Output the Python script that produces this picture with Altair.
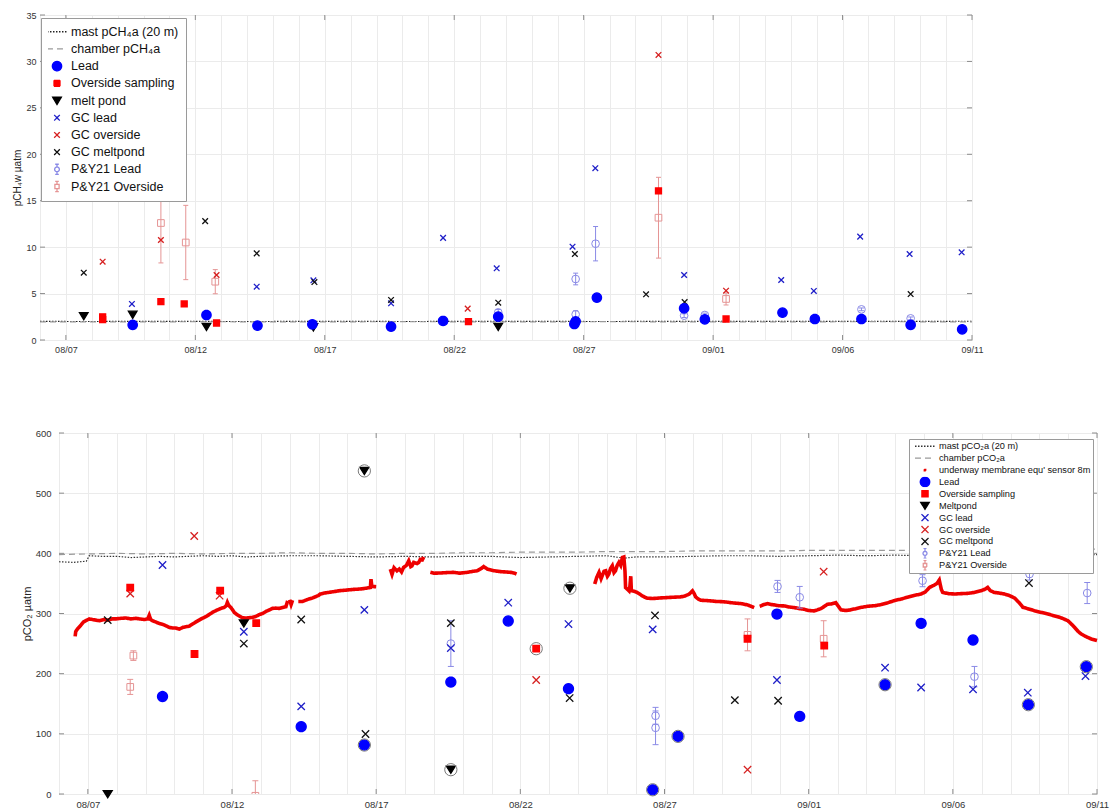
import math
import altair as alt
import pandas as pd

# ---------------------------------------------------------------- time helpers
BASE = pd.Timestamp("2020-07-31", tz="UTC")   # day numbers below are "day of August" (32 = 1 Sep)


def iso(days):
    return [(BASE + pd.Timedelta(days=float(d))).strftime("%Y-%m-%dT%H:%M:%SZ") for d in days]


def ms(day):
    return int((BASE + pd.Timedelta(days=float(day))).value // 10**6)


# ================================================================ CH4 panel data
ch4_labels = ["mast pCH₄a (20 m)", "chamber pCH₄a", "Lead", "Overside sampling", "melt pond",
              "GC lead", "GC overside", "GC meltpond", "P&Y21 Lead", "P&Y21 Overside"]

ch4_mast_day = [6, 8, 10, 12, 14, 16, 18, 20, 22, 24, 26, 28, 30, 32, 34, 36, 38, 40, 42]
ch4_mast_val = [2.00, 1.99, 2.01, 2.00, 1.99, 2.00, 2.01, 1.99, 2.00, 2.01, 2.00, 1.99, 2.01, 2.00, 2.00, 2.01, 2.00, 2.01, 2.02]
ch4_chamber_day = [6, 8, 10, 12, 14, 16, 18, 20, 22, 24, 26, 28, 30, 32, 34, 36, 38, 40, 42]
ch4_chamber_val = [1.95, 1.96, 1.95, 1.97, 1.96, 1.95, 1.96, 1.97, 1.96, 1.95, 1.96, 1.97, 1.96, 1.96, 1.95, 1.96, 1.97, 1.96, 1.96]

ch4_lead_day = [9.58, 12.43, 14.40, 16.52, 19.56, 21.57, 23.70, 26.64, 26.69, 27.51, 30.88, 31.68, 34.68, 35.93, 37.73, 39.63, 41.62]
ch4_lead_val = [1.62, 2.69, 1.54, 1.69, 1.44, 2.05, 2.51, 1.72, 2.00, 4.56, 3.41, 2.23, 2.94, 2.26, 2.26, 1.62, 1.15]
ch4_over_day = [8.42, 8.42, 10.67, 11.57, 12.82, 22.55, 29.89, 32.50]
ch4_over_val = [2.5, 2.2, 4.13, 3.88, 1.83, 1.97, 16.05, 2.26]
ch4_pond_day = [7.69, 9.58, 12.43, 16.56, 23.70]
ch4_pond_val = [2.6, 2.75, 1.44, 1.40, 1.44]
ch4_gclead_day = [9.55, 14.37, 16.56, 19.56, 21.57, 23.64, 26.57, 27.45, 30.88, 34.63, 35.89, 37.68, 39.59, 41.60]
ch4_gclead_val = [3.88, 5.74, 6.43, 3.95, 11.0, 7.72, 10.05, 18.5, 7.0, 6.46, 5.28, 11.13, 9.26, 9.44]
ch4_gcover_day = [8.42, 10.67, 12.82, 22.52, 29.89, 32.50]
ch4_gcover_val = [8.43, 10.77, 7.0, 3.38, 30.7, 5.31]
ch4_gcpond_day = [7.69, 12.38, 14.37, 16.60, 19.56, 23.70, 26.66, 29.41, 30.90, 39.63]
ch4_gcpond_val = [7.25, 12.8, 9.33, 6.24, 4.31, 4.02, 9.26, 4.92, 4.09, 4.95]
ch4_pylead_day = [23.70, 26.69, 26.69, 27.46, 30.88, 31.68, 37.73, 39.63]
ch4_pylead_val = [2.98, 6.57, 2.76, 10.37, 2.62, 2.69, 3.30, 2.33]
ch4_pylead_err = [0.30, 0.63, 0.40, 1.85, 0.20, 0.20, 0.15, 0.15]
ch4_pyover_day = [10.67, 11.63, 12.77, 29.89, 32.50]
ch4_pyover_val = [12.6, 10.5, 6.28, 13.17, 4.42]
ch4_pyover_err = [4.3, 4.0, 1.3, 4.35, 0.65]

# ================================================================ CO2 panel data
co2_labels = ["mast pCO₂a (20 m)", "chamber pCO₂a", "underway membrane equ' sensor 8m", "Lead",
              "Overside sampling", "Meltpond", "GC lead", "GC overside", "GC meltpond",
              "P&Y21 Lead", "P&Y21 Overside"]

co2_mast_day = [6.0, 6.5, 6.95, 7.05, 7.5, 8.0, 8.5, 9.0, 9.5, 10, 10.5, 11, 11.5, 12, 12.5, 13,
                14, 15, 16, 17, 18, 19, 20, 21, 22, 23, 24, 25, 25.6, 26, 27, 28, 29, 30, 31, 32,
                33, 34, 35, 36, 37, 38, 39, 40, 41, 42]
co2_mast_val = [386, 385, 387, 396, 395, 395, 393, 394, 395, 394, 395, 396, 395, 396, 394, 395,
                396, 396, 395, 394, 395, 394, 395, 395, 393, 394, 395, 396, 392, 394, 394, 395,
                396, 396, 395, 396, 397, 396, 397, 396, 397, 396, 397, 397, 397, 398]
co2_chamber_day = list(range(6, 43))
co2_chamber_val = [398, 399, 400, 399, 400, 399, 400, 400, 401, 400, 400, 399, 400, 400, 401, 401,
                   402, 402, 402, 403, 403, 403, 404, 404, 404, 404, 405, 405, 405, 405, 405, 406,
                   406, 406, 406, 407, 407]

# underway sensor, in separate recorded segments
uw1_day = [6.56, 6.58, 6.65, 6.75, 6.85, 6.93, 7.05, 7.16, 7.28, 7.39, 7.55, 7.68, 7.85, 7.97, 8.15,
           8.31, 8.5, 8.66, 8.8, 8.95, 9.08, 9.13, 9.18, 9.24, 9.35, 9.47, 9.6, 9.7, 9.82, 9.94,
           10.05, 10.17, 10.3, 10.4, 10.52, 10.63, 10.75, 10.86, 10.97, 11.09, 11.2, 11.32, 11.45,
           11.56, 11.65, 11.73, 11.8, 11.84, 11.88, 11.96, 12.02, 12.08, 12.15, 12.25, 12.35,
           12.48, 12.6, 12.71, 12.82, 12.94, 13.06, 13.18, 13.3, 13.41, 13.52, 13.64, 13.75,
           13.87, 13.93]
uw1_val = [262, 270, 275, 280, 286, 288, 291, 290, 289, 288, 290, 289, 291, 291, 292, 292.5, 291,
           292, 291, 290, 291, 297, 290, 288, 286, 283.6, 282, 279.7, 277, 275.8, 276, 274, 277,
           278, 279, 282.5, 286, 289, 292, 294.7, 298, 301.8, 305, 307.4, 309, 310, 313, 318.5,
           314, 310, 306, 301.8, 299, 296, 293, 292.5, 293, 293.6, 295, 298, 300, 303.5, 306,
           308.5, 309, 308.5, 310, 311.3, 321]
uw2_day = [14.0, 14.05, 14.1]
uw2_val = [323, 315, 322]
uw3_day = [14.3, 14.45, 14.6, 14.8, 15.0, 15.06, 15.2, 15.35, 15.52, 15.75, 15.99, 16.2, 16.45,
           16.65, 16.8, 16.82, 16.85, 17.0]
uw3_val = [320, 320, 323, 326, 330, 332.4, 334, 335, 336.3, 338, 339, 340, 340.7, 342, 343.4, 357,
           345, 344.5]
uw4_day = [17.49, 17.55, 17.62, 17.72, 17.8, 17.88, 17.95, 18.05, 18.13, 18.2, 18.24, 18.3, 18.42,
           18.48, 18.53, 18.6, 18.65]
uw4_val = [373.7, 365, 376, 371, 374, 369, 376.5, 380, 387.6, 378, 379, 385, 383, 385, 390, 389, 394]
uw5_day = [18.88, 19.0, 19.23, 19.45, 19.69, 19.9, 20.15, 20.35, 20.5, 20.65, 20.73, 20.85, 20.96,
           21.1, 21.31, 21.5, 21.66, 21.8, 21.87]
uw5_val = [368.4, 367, 367.3, 368, 368.4, 367, 368.4, 370, 371, 375, 378, 374, 372.5, 371, 369.6,
           369, 368.4, 367, 365.6]
uw6_day = [24.58, 24.65, 24.73, 24.8, 24.84, 24.9, 24.96, 25.02, 25.07, 25.13, 25.19, 25.25, 25.3,
           25.36, 25.42, 25.48, 25.54, 25.59, 25.63, 25.65, 25.72, 25.77, 25.8, 25.83, 25.85,
           25.95, 26.06, 26.15, 26.23, 26.32, 26.4, 26.58, 26.75, 26.9, 27.1, 27.3, 27.56, 27.7,
           27.85, 27.97, 28.03, 28.08, 28.17, 28.26, 28.45, 28.6, 28.8, 28.95, 29.15, 29.3, 29.5,
           29.65, 29.88, 30.0, 30.11]
uw6_val = [349, 360, 368.4, 358, 362.8, 370, 371, 362, 365.6, 375, 379.4, 368, 371, 380, 385, 380,
           393.3, 394, 370, 343, 340, 337.6, 345, 362, 338, 337, 334.8, 332, 329.3, 327, 325.4, 325,
           325.4, 326, 326.5, 327, 327.6, 329, 332, 337.6, 333, 327.6, 324, 322, 321.5, 321, 320,
           319.8, 319, 318, 317, 316.5, 314.3, 312, 309.8]
uw7_day = [30.3, 30.34, 30.45, 30.57, 30.7, 30.8, 30.95, 31.15, 31.3, 31.5, 31.7, 31.85, 32.0,
           32.19, 32.3, 32.42, 32.55, 32.65, 32.8, 32.94, 33.0, 33.12, 33.29, 33.45, 33.58, 33.8,
           34.05, 34.3, 34.51, 34.75, 34.97, 35.2, 35.43, 35.65, 35.9, 36.05, 36.19, 36.35, 36.45,
           36.53, 36.6, 36.65, 36.85, 37.06, 37.3, 37.52, 37.75, 37.98, 38.1, 38.21, 38.3, 38.44,
           38.6, 38.79, 38.95, 39.14, 39.3, 39.43, 39.6, 39.83, 40.05, 40.3, 40.45, 40.64, 40.8,
           40.99, 41.1, 41.22, 41.35, 41.45, 41.6, 41.8, 42.0]
uw7_val = [312, 312.6, 315, 316.5, 315, 314.3, 313, 312.6, 311, 309.8, 308, 307, 305, 304.3, 306,
           308, 312, 315.4, 316, 318, 314, 306, 305, 306, 307.5, 310, 312, 313, 314.8, 318, 321.4,
           324, 327, 330, 332.4, 336, 343.4, 347, 350, 355.6, 340, 335, 333, 332.4, 333, 333.5,
           335, 337.9, 340, 343.4, 338, 335, 334, 332.4, 330, 325.8, 318, 310.3, 308, 304.7, 302,
           299.2, 297, 294.7, 292, 288, 283, 277, 270, 266, 262, 257.7, 255]
uw_days = [uw1_day, uw2_day, uw3_day, uw4_day, uw5_day, uw6_day, uw7_day]
uw_vals = [uw1_val, uw2_val, uw3_val, uw4_val, uw5_val, uw6_val, uw7_val]

co2_lead_day = [9.59, 14.40, 16.59, 19.59, 21.58, 23.67, 26.59, 27.47, 30.90, 31.69, 34.65, 35.90, 37.70, 39.62, 41.63]
co2_lead_val = [162, 111.9, 81.4, 186, 287.5, 175, 7, 95.8, 299, 129, 181.6, 283.6, 256, 148.4, 211.6]
co2_over_day = [8.47, 10.70, 11.59, 12.84, 22.55, 29.88, 32.54]
co2_over_val = [343, 232.7, 338, 284, 241.5, 258, 246.5]
co2_pond_day = [7.69, 12.41, 16.59, 19.59, 23.72]
co2_pond_val = [0, 283.6, 537, 40.4, 342]
co2_gclead_day = [9.59, 12.41, 14.40, 16.59, 19.59, 21.58, 23.67, 26.59, 30.90, 34.65, 35.90, 37.70, 39.60, 41.60]
co2_gclead_val = [380.6, 269.7, 145.6, 306, 242.6, 318, 282.5, 273.6, 189.5, 210, 177, 174, 168.4, 196]
co2_gcover_day = [8.47, 10.69, 11.57, 22.55, 29.88, 32.52]
co2_gcover_val = [333, 428.8, 329.6, 189.5, 40.4, 369.5]
co2_gcpond_day = [7.69, 12.41, 14.40, 16.63, 19.59, 23.71, 26.67, 29.44, 30.94, 39.64]
co2_gcpond_val = [289, 250, 290, 99.7, 284, 159.5, 296.8, 156, 155, 350.6]
co2_pylead_day = [19.59, 26.69, 26.69, 30.92, 31.69, 35.95, 37.75, 39.66, 41.66]
co2_pylead_val = [250, 130, 110, 345, 327, 354.5, 195, 365.6, 334]
co2_pylead_err = [38, 14, 28, 10, 18, 10, 17, 10, 17.5]
co2_pyover_day = [8.47, 8.58, 12.81, 29.88, 32.52]
co2_pyover_val = [178, 230, -3, 264.5, 258]
co2_pyover_err = [12.5, 8, 25, 26.5, 30]
co2_ring_day = [16.59, 16.59, 19.59, 22.55, 23.72, 26.59, 27.47, 34.65, 39.62, 41.63]
co2_ring_val = [537, 81.4, 40.4, 241.5, 342, 7, 95.8, 181.6, 148.4, 211.6]

major_days = [7, 12, 17, 22, 27, 32, 37, 42]
T0 = ms(7)


# ---------------------------------------------------------------- builders
def frame(days, vals, series, seg=0):
    return pd.DataFrame({"t": iso(days), "v": vals, "series": series, "seg": seg})


def err_frame(days, vals, errs, series):
    return pd.DataFrame({"t": iso(days), "v": vals,
                         "lo": [v - e for v, e in zip(vals, errs)],
                         "hi": [v + e for v, e in zip(vals, errs)], "series": series})


def circle(r, n=24):
    pts = [(r * math.cos(2 * math.pi * k / n), r * math.sin(2 * math.pi * k / n)) for k in range(n)]
    return "M" + "L".join(f"{px:.3f},{py:.3f}" for px, py in pts) + "Z"


def square(h):
    return f"M-{h},-{h}H{h}V{h}H-{h}Z"


def cross(h):
    return f"M-{h},-{h}L{h},{h}M-{h},{h}L{h},-{h}"


def py_icon(inner, b):
    return f"M0,-{b}V-0.4M0,0.4V{b}M-0.3,-{b}H0.3M-0.3,{b}H0.3" + inner


FRAME = alt.ViewBackground(stroke="#a6a6a6", strokeWidth=1)


def panel(P):
    W, H = P["W"], P["H"]
    dom = P["labels"]
    leg = P["legend"]

    def sc(rng):
        return alt.Scale(domain=dom, range=rng)

    stroke = alt.Stroke("series:N", scale=sc(P["strokes"]), legend=leg)
    fill = alt.Fill("series:N", scale=sc(P["fills"]), legend=leg)
    shape = alt.Shape("series:N", scale=sc(P["shapes"]), legend=leg)
    dash = alt.StrokeDash("series:N", scale=sc(P["dashes"]), legend=leg)

    all_days = [ms(d) for d in range(6, 43)]
    xaxis = alt.Axis(values=all_days, grid=True, gridColor="#ebebeb", ticks=False, domain=False,
                     labelExpr=f"(round((datum.value - {T0})/86400000) % 5 == 0) ? utcFormat(datum.value, '%m/%d') : ''",
                     labelFontSize=P["xfs"], labelColor="#333333", labelPadding=5, labelOverlap=False,
                     labelFlush=False, title=None)
    x = alt.X("t:T", scale=alt.Scale(type="utc", domain=[ms(6), ms(42)]), axis=xaxis)
    x2 = alt.X2("t:T")
    yscale = alt.Scale(domain=P["ydom"], nice=False, zero=False)
    yaxis = alt.Axis(values=P["yvals"], grid=True, gridColor="#ebebeb", ticks=False, domain=False,
                     labelFontSize=P["yfs"], labelColor="#333333", labelPadding=P["lp"],
                     title=P["ytitle"], titleFontSize=P["tfs"], titleFontWeight="normal",
                     titleColor="#222222", titlePadding=P["tp"])

    def Y(f):
        return alt.Y(f"{f}:Q", scale=yscale, axis=yaxis)

    layers = []
    layers.append(alt.Chart(P["lines"]).mark_line(strokeWidth=1.2).encode(
        x=x, y=Y("v"), stroke=stroke, strokeDash=dash, detail="seg:N"))
    if P.get("uw") is not None:
        layers.append(alt.Chart(P["uw"]).mark_line(strokeWidth=3.6).encode(
            x=x, y=Y("v"), stroke=stroke, strokeDash=dash, detail="seg:N"))
    for df, shp, size, clip in P["py"]:
        layers.append(alt.Chart(df).mark_rule(strokeWidth=1, clip=clip).encode(
            x=x, y=Y("lo"), y2=alt.Y2("hi:Q"), stroke=stroke))
        for f in ("lo", "hi"):
            layers.append(alt.Chart(df).mark_rule(strokeWidth=1, xOffset=-P["cap"], x2Offset=P["cap"], clip=clip).encode(
                x=x, x2=x2, y=Y(f), stroke=stroke))
        layers.append(alt.Chart(df).mark_point(filled=True, opacity=1, size=size, strokeWidth=1, clip=clip).encode(
            x=x, y=Y("v"), stroke=stroke, fill=alt.value("transparent"), shape=alt.value(shp)))
    layers.append(alt.Chart(P["pts"]).mark_point(filled=True, opacity=1, size=P["msize"], strokeWidth=1.3).encode(
        x=x, y=Y("v"), stroke=stroke, fill=fill, shape=shape))
    if P.get("rings") is not None:
        layers.append(alt.Chart(P["rings"]).mark_point(filled=False, opacity=1, shape="circle", size=150,
                                                       strokeWidth=1, color="#7a7a7a").encode(x=x, y=Y("v")))
    # inward MATLAB-style ticks
    tk = pd.DataFrame({"t": iso(major_days)})
    yt = pd.DataFrame({"v": P["yvals"]})
    layers.append(alt.Chart(tk).mark_rule(color="#8c8c8c").encode(x=x, y=alt.value(0), y2=alt.value(5)))
    layers.append(alt.Chart(tk).mark_rule(color="#8c8c8c").encode(x=x, y=alt.value(H - 5), y2=alt.value(H)))
    layers.append(alt.Chart(yt).mark_rule(color="#8c8c8c").encode(x=alt.value(0), x2=alt.value(5), y=Y("v")))
    layers.append(alt.Chart(yt).mark_rule(color="#8c8c8c").encode(x=alt.value(W - 5), x2=alt.value(W), y=Y("v")))
    return alt.layer(*layers).properties(width=W, height=H, view=FRAME)


# ---------------------------------------------------------------- CH4 panel
L = ch4_labels
ch4_lines = pd.concat([frame(ch4_mast_day, ch4_mast_val, L[0], 0),
                       frame(ch4_chamber_day, ch4_chamber_val, L[1], 1)])
ch4_pts = pd.concat([
    frame(ch4_gclead_day, ch4_gclead_val, L[5]), frame(ch4_gcover_day, ch4_gcover_val, L[6]),
    frame(ch4_gcpond_day, ch4_gcpond_val, L[7]),
    frame(ch4_pond_day, ch4_pond_val, L[4]), frame(ch4_over_day, ch4_over_val, L[3]),
    frame(ch4_lead_day, ch4_lead_val, L[2])])
top = panel(dict(
    W=932, H=325, labels=L, ydom=[0, 35], yvals=[0, 5, 10, 15, 20, 25, 30, 35],
    ytitle="pCH₄w µatm", xfs=9, yfs=9, tfs=10, lp=4, tp=3, cap=2.5, msize=144,
    strokes=["#222222", "#9a9a9a", "#0000ff", "#ff0000", "#000000", "#1f1fc8", "#d62020", "#111111", "#8a8ae6", "#e59494"],
    fills=["transparent", "transparent", "#0000ff", "#ff0000", "#000000", "transparent", "transparent", "transparent", "transparent", "transparent"],
    shapes=["M-1.67,0H1.67", "M-1.67,0H1.67", circle(0.78), square(0.5), "M-0.72,-0.55H0.72L0,0.66Z",
            cross(0.47), cross(0.47), cross(0.47),
            py_icon(circle(0.4, 12), 0.85), py_icon(square(0.35), 0.85)],
    dashes=[[1.5, 1.5], [6, 4], [1, 0], [1, 0], [1, 0], [1, 0], [1, 0], [1, 0], [1, 0], [1, 0]],
    legend=alt.Legend(title=None, orient="none", legendX=1, legendY=3, symbolSize=144, symbolStrokeWidth=1.3,
                      symbolOffset=2, padding=7, rowPadding=3.2, clipHeight=13.5, labelOffset=7,
                      labelFontSize=12.5, labelFont="Liberation Sans", labelColor="#111111",
                      strokeColor="#9a9a9a", fillColor="white", labelLimit=300),
    lines=ch4_lines, uw=None, pts=ch4_pts, rings=None,
    py=[(err_frame(ch4_pylead_day, ch4_pylead_val, ch4_pylead_err, L[8]), "circle", 59, False),
        (err_frame(ch4_pyover_day, ch4_pyover_val, ch4_pyover_err, L[9]), "square", 45, False)],
))

# ---------------------------------------------------------------- CO2 panel
C = co2_labels
co2_lines = pd.concat([frame(co2_mast_day, co2_mast_val, C[0], 0),
                       frame(co2_chamber_day, co2_chamber_val, C[1], 1)])
co2_uw = pd.concat([frame(d, v, C[2], i) for i, (d, v) in enumerate(zip(uw_days, uw_vals))])
co2_pts = pd.concat([
    frame(co2_gclead_day, co2_gclead_val, C[6]), frame(co2_gcover_day, co2_gcover_val, C[7]),
    frame(co2_gcpond_day, co2_gcpond_val, C[8]),
    frame(co2_pond_day, co2_pond_val, C[5]), frame(co2_over_day, co2_over_val, C[4]),
    frame(co2_lead_day, co2_lead_val, C[3])])
bottom = panel(dict(
    W=1038, H=361, labels=C, ydom=[0, 600], yvals=[0, 100, 200, 300, 400, 500, 600],
    ytitle="pCO₂ µatm", xfs=9.5, yfs=9.5, tfs=11, lp=8, tp=3, cap=3, msize=111,
    strokes=["#333333", "#9a9a9a", "#ee0000", "#0000ff", "#ff0000", "#000000", "#1f1fc8", "#d62020", "#111111", "#8a8ae6", "#e59494"],
    fills=["transparent", "transparent", "#ee0000", "#0000ff", "#ff0000", "#000000", "transparent", "transparent", "transparent", "transparent", "transparent"],
    shapes=["M-2,0H2", "M-2,0H2", square(0.15), circle(0.95), square(0.62), "M-0.85,-0.65H0.85L0,0.7Z",
            cross(0.7), cross(0.7), cross(0.7),
            py_icon(circle(0.4, 12), 1.0), py_icon(square(0.35), 1.0)],
    dashes=[[1.5, 1.5], [6, 4], [1, 0], [1, 0], [1, 0], [1, 0], [1, 0], [1, 0], [1, 0], [1, 0], [1, 0]],
    # the legend belongs to the lower row group, whose origin lies left of the plot by the spacer width
    legend=alt.Legend(title=None, orient="none", legendX=869, legendY=6, symbolSize=100, symbolStrokeWidth=1.3,
                      symbolOffset=8, padding=2, rowPadding=0.9, clipHeight=10.5, labelOffset=8,
                      labelFontSize=9.2, labelFont="Liberation Sans", labelColor="#111111",
                      strokeColor="#9a9a9a", fillColor="white", labelLimit=300),
    lines=co2_lines, uw=co2_uw, pts=co2_pts,
    rings=pd.DataFrame({"t": iso(co2_ring_day), "v": co2_ring_val}),
    py=[(err_frame(co2_pylead_day, co2_pylead_val, co2_pylead_err, C[9]), "circle", 59, False),
        (err_frame(co2_pyover_day, co2_pyover_val, co2_pyover_err, C[10]), "square", 45, True)],
))

# empty spacer that shifts the lower panel to the right of the upper one
spacer = alt.Chart(pd.DataFrame({"a": [0]})).mark_point(opacity=0).properties(
    width=19, height=10, view=alt.ViewBackground(stroke=None))
bottom_row = alt.hconcat(spacer, bottom, spacing=0, bounds="flush")

chart = alt.vconcat(top, bottom_row, spacing=72).resolve_scale(
    x="independent", y="independent", stroke="independent", fill="independent",
    shape="independent", strokeDash="independent"
).resolve_legend(
    stroke="independent", fill="independent", shape="independent", strokeDash="independent"
).properties(
    padding={"left": 12, "top": 10, "right": 5, "bottom": 0}
).configure(font="Liberation Sans").configure_view(stroke=None)

chart.save("out.html", embed_options={"renderer": "svg", "actions": False})
